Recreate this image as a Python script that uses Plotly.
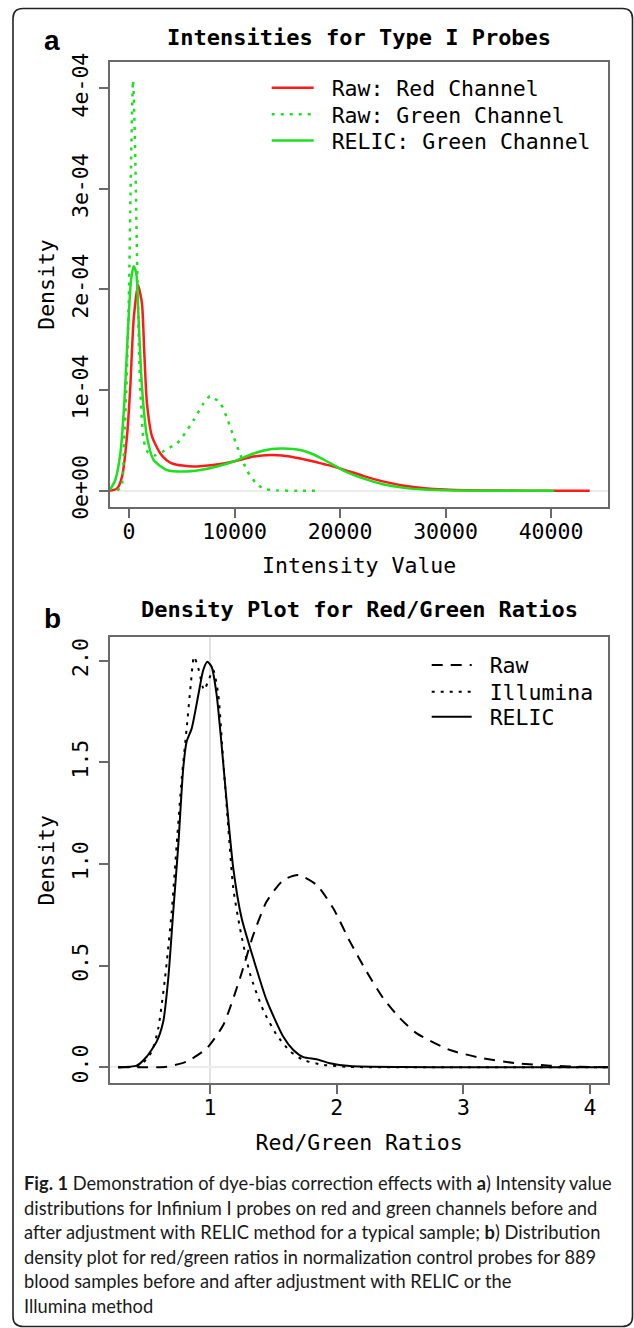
import plotly.graph_objects as go

W, H = 634, 1328

# ---------------- Panel a data (Intensity value vs density) ----------------
red_raw_x = [-1800, -1140, -660, -190, 120, 440, 850, 1230, 1450, 1700, 2180, 2970, 3600, 4230,
             5050, 6120, 6960, 8340, 9920, 11810, 13460, 14500, 16240, 17500, 18430, 19400,
             20340, 22260, 24170, 26080, 27990, 29900, 32000, 35000, 40000, 43670]
red_raw_y = [0.0, 0.02e-4, 0.14e-4, 0.54e-4, 1.03e-4, 1.70e-4, 2.045e-4, 1.86e-4, 1.37e-4, 0.87e-4,
             0.54e-4, 0.37e-4, 0.30e-4, 0.265e-4, 0.25e-4, 0.24e-4, 0.245e-4, 0.26e-4, 0.29e-4,
             0.34e-4, 0.355e-4, 0.35e-4, 0.32e-4, 0.29e-4, 0.265e-4, 0.24e-4, 0.21e-4, 0.145e-4,
             0.09e-4, 0.05e-4, 0.025e-4, 0.011e-4, 0.004e-4, 0.001e-4, 0.0, 0.0]

green_raw_x = [-1100, -700, -450, -250, 0, 150, 300, 380, 460, 600, 815, 1070, 1390, 1800, 2400,
               2970, 3700, 4550, 5300, 6120, 7070, 7700, 8650, 9300, 9900, 10500, 11180, 12000,
               12760, 14000, 16000, 17900]
green_raw_y = [0.0, 0.05e-4, 0.5e-4, 1.0e-4, 2.0e-4, 3.0e-4, 3.8e-4, 4.08e-4, 3.9e-4, 3.3e-4,
               2.0e-4, 1.0e-4, 0.5e-4, 0.38e-4, 0.35e-4, 0.375e-4, 0.42e-4, 0.47e-4, 0.57e-4,
               0.70e-4, 0.87e-4, 0.94e-4, 0.87e-4, 0.72e-4, 0.54e-4, 0.37e-4, 0.2e-4, 0.08e-4,
               0.02e-4, 0.003e-4, 0.0, 0.0]

green_relic_x = [-1800, -1300, -820, -445, -130, 190, 440, 690, 910, 1230, 1700, 2330, 3600, 5180,
                 6760, 8340, 9920, 11810, 13500, 14610, 16240, 17500, 18430, 19400, 20340, 22260,
                 24170, 26080, 27990, 29900, 32000, 35000, 40300]
green_relic_y = [0.007e-4, 0.106e-4, 0.37e-4, 0.87e-4, 1.53e-4, 2.09e-4, 2.23e-4, 2.16e-4, 1.70e-4,
                 1.03e-4, 0.54e-4, 0.305e-4, 0.205e-4, 0.19e-4, 0.205e-4, 0.24e-4, 0.29e-4,
                 0.37e-4, 0.415e-4, 0.42e-4, 0.405e-4, 0.36e-4, 0.31e-4, 0.255e-4, 0.20e-4,
                 0.12e-4, 0.062e-4, 0.028e-4, 0.011e-4, 0.004e-4, 0.001e-4, 0.0, 0.0]

a_xticks = [0, 10000, 20000, 30000, 40000]
a_xticklabels = ["0", "10000", "20000", "30000", "40000"]
a_yticks = [0, 1e-4, 2e-4, 3e-4, 4e-4]
a_yticklabels = ["0e+00", "1e-04", "2e-04", "3e-04", "4e-04"]

# ---------------- Panel b data (Red/Green ratios vs density) ----------------
raw_x = [0.276, 0.5, 0.658, 0.816, 0.974, 1.105, 1.237, 1.342, 1.447, 1.579, 1.697, 1.842, 1.973,
         2.105, 2.237, 2.368, 2.5, 2.632, 2.894, 3.157, 3.42, 3.683, 3.9, 4.144]
raw_y = [0.0, 0.0, 0.003, 0.028, 0.093, 0.208, 0.438, 0.651, 0.815, 0.921, 0.946, 0.897, 0.782,
         0.618, 0.47, 0.339, 0.241, 0.167, 0.085, 0.044, 0.02, 0.008, 0.003, 0.0]

illumina_x = [0.276, 0.45, 0.54, 0.592, 0.645, 0.698, 0.737, 0.777, 0.816, 0.848, 0.874, 0.908,
              0.953, 0.995, 1.026, 1.066, 1.105, 1.145, 1.184, 1.237, 1.316, 1.421, 1.526, 1.631,
              1.737, 1.894, 2.1, 2.5, 4.144]
illumina_y = [0.0, 0.01, 0.077, 0.192, 0.438, 0.765, 1.093, 1.42, 1.667, 1.88, 2.02, 1.963, 1.856,
              1.913, 1.954, 1.831, 1.503, 1.176, 0.88, 0.684, 0.46, 0.28, 0.16, 0.08, 0.036,
              0.012, 0.002, 0.0, 0.0]

relic_x = [0.276, 0.421, 0.5, 0.579, 0.631, 0.671, 0.71, 0.75, 0.789, 0.816, 0.856, 0.908, 0.947,
           0.979, 1.013, 1.053, 1.092, 1.132, 1.184, 1.25, 1.342, 1.447, 1.579, 1.658, 1.737,
           1.842, 1.947, 2.105, 2.5, 3.0, 4.144]
relic_y = [0.0, 0.008, 0.052, 0.126, 0.224, 0.438, 0.765, 1.093, 1.471, 1.602, 1.667, 1.831, 1.954,
           1.995, 1.97, 1.831, 1.585, 1.306, 0.979, 0.733, 0.536, 0.33, 0.15, 0.085, 0.05, 0.04,
           0.02, 0.006, 0.001, 0.0, 0.0]

b_xticks = [1, 2, 3, 4]
b_xticklabels = ["1", "2", "3", "4"]
b_yticks = [0.0, 0.5, 1.0, 1.5, 2.0]
b_yticklabels = ["0.0", "0.5", "1.0", "1.5", "2.0"]

caption_lines = [
    "<b>Fig. 1</b> Demonstration of dye-bias correction effects with <b>a</b>) Intensity value",
    "distributions for Infinium I probes on red and green channels before and",
    "after adjustment with RELIC method for a typical sample; <b>b</b>) Distribution",
    "density plot for red/green ratios in normalization control probes for 889",
    "blood samples before and after adjustment with RELIC or the",
    "Illumina method",
]

# ---------------- figure ----------------
MONO = "DejaVu Sans Mono"
RED = "#ff1a1a"
GREEN = "#1ee01e"
NB = "\u00a0"

fig = go.Figure()
fig.add_trace(go.Scatter(x=red_raw_x, y=red_raw_y, mode="lines", name=NB + "Raw: Red Channel",
                         line=dict(color=RED, width=2.5, shape="spline", smoothing=0.6),
                         xaxis="x", yaxis="y", legend="legend"))
fig.add_trace(go.Scatter(x=green_raw_x, y=green_raw_y, mode="lines", name=NB + "Raw: Green Channel",
                         line=dict(color=GREEN, width=2.5, dash="3px,6px", shape="spline", smoothing=0.6),
                         xaxis="x", yaxis="y", legend="legend2"))
fig.add_trace(go.Scatter(x=green_relic_x, y=green_relic_y, mode="lines", name=NB + "RELIC: Green Channel",
                         line=dict(color=GREEN, width=2.5, shape="spline", smoothing=0.6),
                         xaxis="x", yaxis="y", legend="legend3"))

fig.add_trace(go.Scatter(x=raw_x, y=raw_y, mode="lines", name=NB + "Raw",
                         line=dict(color="black", width=2, dash="11px,8px", shape="spline", smoothing=0.6),
                         xaxis="x2", yaxis="y2", legend="legend4"))
fig.add_trace(go.Scatter(x=illumina_x, y=illumina_y, mode="lines", name=NB + "Illumina",
                         line=dict(color="black", width=2, dash="3px,6px", shape="spline", smoothing=0.6),
                         xaxis="x2", yaxis="y2", legend="legend5"))
fig.add_trace(go.Scatter(x=relic_x, y=relic_y, mode="lines", name=NB + "RELIC",
                         line=dict(color="black", width=2, shape="spline", smoothing=0.6),
                         xaxis="x2", yaxis="y2", legend="legend6"))

tickfont = dict(family=MONO, size=21.5, color="black")
titlefont = dict(family=MONO, size=21.5, color="black")
axis_common = dict(showline=True, mirror=True, linecolor="#6a6a6a", linewidth=1.5,
                   ticks="outside", ticklen=9, tickwidth=1.5, tickcolor="#6a6a6a",
                   showgrid=False, zeroline=False, tickfont=tickfont, automargin=False)
x_extra = dict(ticklabelstandoff=-5)
y_extra = dict(ticklabelstandoff=3, zeroline=True, zerolinecolor="#ececec", zerolinewidth=1.5)

xdom = [110 / W, 608.3 / W]


def legend_box(xpx, ypx, iw):
    return dict(x=xpx / W, y=1 - ypx / H, xanchor="left", yanchor="middle",
                font=dict(family=MONO, size=21.5, color="black"), bgcolor="rgba(0,0,0,0)",
                itemwidth=iw, borderwidth=0)


fig.update_layout(
    width=W, height=H, margin=dict(l=0, r=0, t=0, b=0),
    paper_bgcolor="white", plot_bgcolor="white", template="none",
    xaxis=dict(domain=xdom, range=[-1801, 45431], tickvals=a_xticks, ticktext=a_xticklabels,
               anchor="y", title=dict(text="Intensity Value", font=titlefont, standoff=15),
               **axis_common, **x_extra),
    yaxis=dict(domain=[1 - 507.3 / H, 1 - 61.7 / H], range=[-0.165e-4, 4.264e-4],
               tickvals=a_yticks, ticktext=a_yticklabels, tickangle=-90, anchor="x",
               title=dict(text="Density", font=titlefont, standoff=7),
               **axis_common | y_extra),
    xaxis2=dict(domain=xdom, range=[0.211, 4.144], tickvals=b_xticks, ticktext=b_xticklabels,
                anchor="y2", title=dict(text="Red/Green Ratios", font=titlefont, standoff=16),
                **axis_common, **x_extra),
    yaxis2=dict(domain=[1 - 1083.3 / H, 1 - 637.3 / H], range=[-0.0787, 2.115],
                tickvals=b_yticks, ticktext=b_yticklabels, tickangle=-90, anchor="x2",
                title=dict(text="Density", font=titlefont, standoff=7),
                **axis_common | y_extra),
    legend=legend_box(266.7, 87.7, 42),
    legend2=legend_box(266.7, 114.3, 42),
    legend3=legend_box(266.7, 140.5, 42),
    legend4=legend_box(426.7, 665, 40),
    legend5=legend_box(426.7, 691.7, 40),
    legend6=legend_box(426.7, 716.7, 40),
    showlegend=True,
)

# vertical reference line at ratio 1 in panel b
fig.add_shape(type="line", xref="x2", yref="y2 domain", x0=1, x1=1, y0=0, y1=1,
              line=dict(color="#d8d8d8", width=1.5), layer="below")

# outer rounded frame
x0, x1 = 13 / W, 632.5 / W
y0, y1 = 1 - 1326.5 / H, 1 - 8.5 / H
rx, ry = 10 / W, 10 / H
path = (f"M {x0+rx},{y1} L {x1-rx},{y1} Q {x1},{y1} {x1},{y1-ry} L {x1},{y0+ry} "
        f"Q {x1},{y0} {x1-rx},{y0} L {x0+rx},{y0} Q {x0},{y0} {x0},{y0+ry} "
        f"L {x0},{y1-ry} Q {x0},{y1} {x0+rx},{y1} Z")
fig.add_shape(type="path", xref="paper", yref="paper", path=path,
              line=dict(color="#222222", width=1.6))

# titles and panel letters
for text, yy in [("<b>Intensities for Type I Probes</b>", 37),
                 ("<b>Density Plot for Red/Green Ratios</b>", 610)]:
    fig.add_annotation(text=text, x=359 / W, y=1 - yy / H, xref="paper", yref="paper",
                       showarrow=False, xanchor="center", yanchor="middle",
                       font=dict(family=MONO, size=22, color="black"))

for letter, yy in [("a", 40), ("b", 618)]:
    fig.add_annotation(text=f"<b>{letter}</b>", x=52 / W, y=1 - yy / H, xref="paper", yref="paper",
                       showarrow=False, xanchor="center", yanchor="middle",
                       font=dict(family="Liberation Sans", size=28, color="black"))

cap_y = [1183.3, 1207.5, 1232, 1256.5, 1281, 1305.5]
for line, yy in zip(caption_lines, cap_y):
    fig.add_annotation(text=line, x=22 / W, y=1 - yy / H, xref="paper", yref="paper",
                       showarrow=False, xanchor="left", yanchor="middle",
                       font=dict(family="Lato", size=18.3, color="#1a1a1a"))

fig.write_html("out.html", config={"displayModeBar": False},
               post_script="document.body.style.margin='0px';")
